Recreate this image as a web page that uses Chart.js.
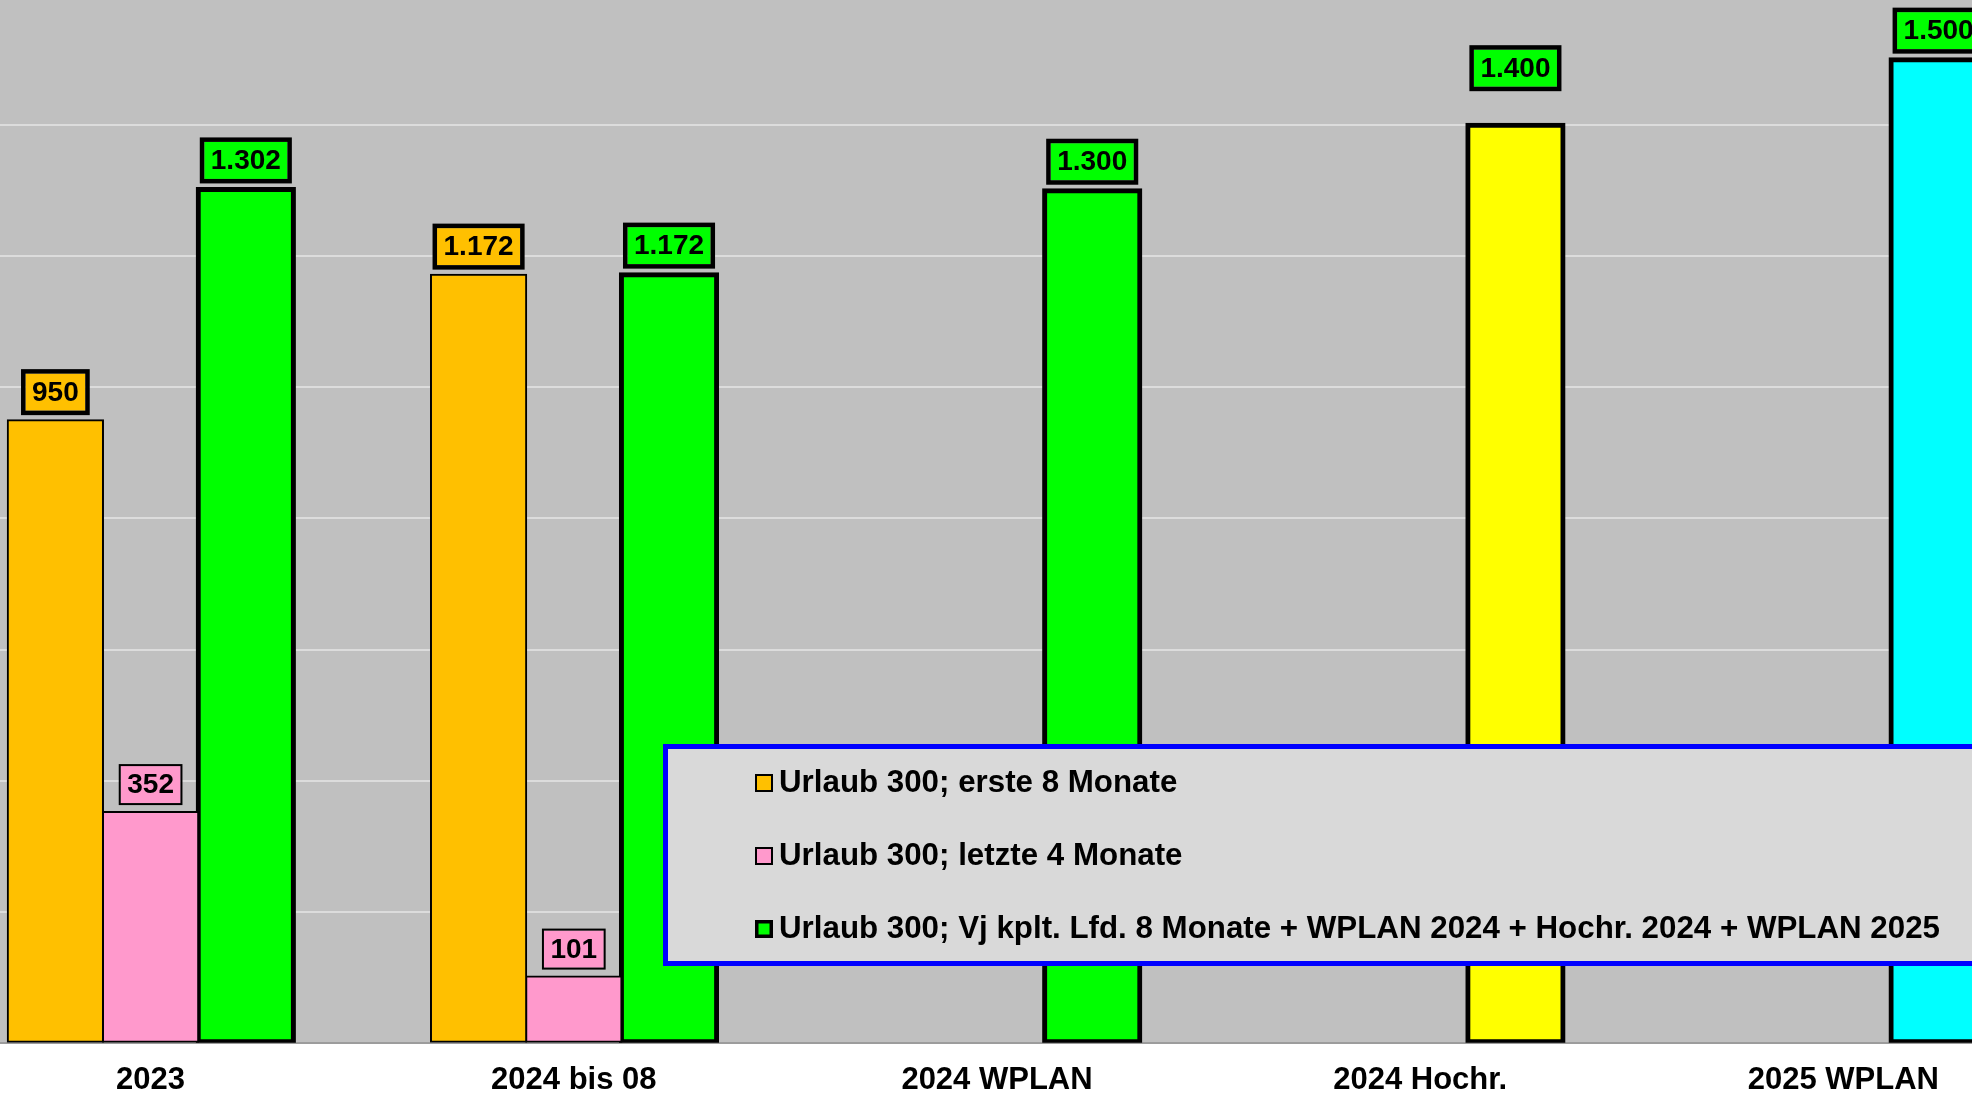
<!DOCTYPE html>
<html>
<head>
<meta charset="utf-8">
<title>Urlaub 300</title>
<script src="https://cdn.jsdelivr.net/npm/chart.js@4.4.1/dist/chart.umd.min.js"></script>
<style>
  html, body { margin: 0; padding: 0; background: #fff; overflow: hidden; width: 1972px; height: 1093px; }
  #wrap { position: absolute; left: -61px; top: 0; width: 2116px; height: 1118px; }
</style>
</head>
<body>
<div id="wrap"><canvas id="urlaub" width="2116" height="1118"></canvas></div>
<script>
// categories and series
var categories = ["2023", "2024 bis 08", "2024 WPLAN", "2024 Hochr.", "2025 WPLAN"];
var ersteMonate = [950, 1172, null, null, null];
var letzteMonate = [352, 101, null, null, null];
var vjKomplett = [1302, 1172, 1300, 1400, 1500];

var seriesNames = [
    "Urlaub 300; erste 8 Monate",
    "Urlaub 300; letzte 4 Monate",
    "Urlaub 300; Vj kplt. Lfd. 8 Monate + WPLAN 2024 + Hochr. 2024 + WPLAN 2025"
];
var vjColors = ["#00ff00", "#00ff00", "#00ff00", "#ffff00", "#00ffff"];
var gridValues = [0, 200, 400, 600, 800, 1000, 1200, 1400];

var FONT = "'Liberation Sans', Arial, sans-serif";

function deNumber(v) {
    return String(v).replace(/\B(?=(\d{3})+(?!\d))/g, ".");
}

// grey plot area
var plotBackground = {
    id: "plotBackground",
    beforeDraw: function (chart) {
        var a = chart.chartArea, ctx = chart.ctx;
        ctx.save();
        ctx.fillStyle = "#c0c0c0";
        ctx.fillRect(a.left, a.top, a.right - a.left, a.bottom - a.top);
        ctx.restore();
    }
};

// boxed value labels above each bar
var valueLabels = {
    id: "valueLabels",
    afterDatasetsDraw: function (chart) {
        var ctx = chart.ctx;
        ctx.save();
        ctx.font = "bold 28px " + FONT;
        ctx.textAlign = "center";
        ctx.textBaseline = "middle";
        chart.data.datasets.forEach(function (ds, i) {
            var meta = chart.getDatasetMeta(i);
            meta.data.forEach(function (bar, j) {
                var v = ds.data[j];
                if (v === null || v === undefined) return;
                var txt = deNumber(v);
                var w = ctx.measureText(txt).width + 13;
                var h = 37;
                var lw = ds.labelBorder;
                var lift = (ds.labelLift && ds.labelLift[j]) || 0;
                var y = bar.y - ds.labelGap - lift - lw - h;
                var x = bar.x - w / 2;
                ctx.fillStyle = ds.labelColor;
                ctx.fillRect(x, y, w, h);
                ctx.lineWidth = lw;
                ctx.strokeStyle = "#000";
                ctx.strokeRect(x - lw / 2, y - lw / 2, w + lw, h + lw);
                ctx.fillStyle = "#000";
                ctx.fillText(txt, bar.x, y + h / 2 + 1);
            });
        });
        ctx.restore();
    }
};

// legend in a blue framed box over the bars
var boxLegend = {
    id: "boxLegend",
    afterDraw: function (chart) {
        var ctx = chart.ctx, a = chart.chartArea;
        var left = a.left + 726.5, top = 746.5, width = 1360, height = 217;
        ctx.save();
        ctx.fillStyle = "#d9d9d9";
        ctx.fillRect(left, top, width, height);
        ctx.lineWidth = 5;
        ctx.strokeStyle = "#0000ff";
        ctx.strokeRect(left, top, width, height);
        ctx.font = "bold 31.3px " + FONT;
        ctx.textAlign = "left";
        ctx.textBaseline = "middle";
        chart.data.datasets.forEach(function (ds, i) {
            var cy = 783 + i * 73;
            var mx = left + 89.5, size = 18;
            var lw = ds.legendBorder;
            ctx.fillStyle = ds.labelColor;
            ctx.fillRect(mx, cy - size / 2, size, size);
            ctx.lineWidth = lw;
            ctx.strokeStyle = "#000";
            ctx.strokeRect(mx + lw / 2, cy - size / 2 + lw / 2, size - lw, size - lw);
            ctx.fillStyle = "#000";
            ctx.fillText(ds.label, left + 113.5, cy);
        });
        ctx.restore();
    }
};

var ctx = document.getElementById("urlaub").getContext("2d");
var chart = new Chart(ctx, {
    type: "bar",
    data: {
        labels: categories,
        datasets: [{
            label: seriesNames[0],
            data: ersteMonate,
            backgroundColor: "#ffc000",
            borderColor: "#000",
            borderWidth: 2,
            borderSkipped: false,
            inflateAmount: 1,
            labelColor: "#ffc000",
            labelBorder: 4.5,
            labelGap: 5,
            legendBorder: 2
        }, {
            label: seriesNames[1],
            data: letzteMonate,
            backgroundColor: "#ff99cc",
            borderColor: "#000",
            borderWidth: 2,
            borderSkipped: false,
            inflateAmount: 1,
            labelColor: "#ff99cc",
            labelBorder: 2,
            labelGap: 7,
            legendBorder: 2
        }, {
            label: seriesNames[2],
            data: vjKomplett,
            backgroundColor: vjColors,
            borderColor: "#000",
            borderWidth: 5,
            borderSkipped: false,
            inflateAmount: 2.5,
            labelColor: "#00ff00",
            labelBorder: 4.5,
            labelGap: 6,
            labelLift: [0, 0, 0, 28, 0],
            legendBorder: 3.5
        }]
    },
    options: {
        responsive: false,
        animation: false,
        events: [],
        layout: { padding: 0 },
        datasets: {
            bar: { categoryPercentage: 0.675, barPercentage: 1.0 }
        },
        plugins: {
            legend: { display: false },
            tooltip: { enabled: false }
        },
        scales: {
            x: {
                grid: { display: false, drawTicks: false },
                border: { display: true, color: "#9c9c9c", width: 2 },
                ticks: {
                    color: "#000",
                    padding: 19,
                    maxRotation: 0,
                    autoSkip: false,
                    font: { family: FONT, size: 31, weight: "bold" }
                }
            },
            y: {
                min: 0,
                max: 1591,
                afterBuildTicks: function (scale) {
                    scale.ticks = gridValues.map(function (v) { return { value: v }; });
                },
                ticks: { display: false },
                border: { display: false },
                grid: {
                    display: true,
                    drawTicks: false,
                    lineWidth: 2,
                    color: "#dcdcdc"
                }
            }
        }
    },
    plugins: [plotBackground, valueLabels, boxLegend]
});
</script>
</body>
</html>
